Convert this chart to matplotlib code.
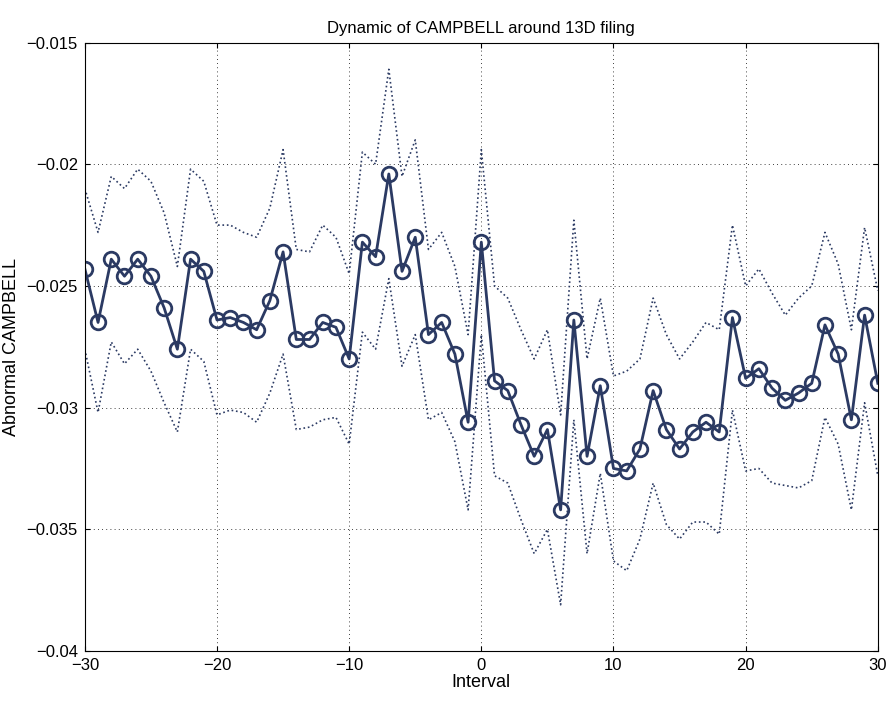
import matplotlib
matplotlib.use('Agg')
import matplotlib.pyplot as plt
import numpy as np

plt.rcParams['font.family'] = ['Liberation Sans', 'DejaVu Sans']

interval = np.arange(-30, 31)
main = [-0.0243, -0.0265, -0.0239, -0.0246, -0.0239, -0.0246, -0.0259, -0.0276, -0.0239, -0.0244,
        -0.0264, -0.0263, -0.0265, -0.0268, -0.0256, -0.0236, -0.0272, -0.0272, -0.0265, -0.0267,
        -0.0280, -0.0232, -0.0238, -0.0204, -0.0244, -0.0230, -0.0270, -0.0265, -0.0278, -0.0306,
        -0.0232, -0.0289, -0.0293, -0.0307, -0.0320, -0.0309, -0.0342, -0.0264, -0.0320, -0.0291,
        -0.0325, -0.0326, -0.0317, -0.0293, -0.0309, -0.0317, -0.0310, -0.0306, -0.0310, -0.0263,
        -0.0288, -0.0284, -0.0292, -0.0297, -0.0294, -0.0290, -0.0266, -0.0278, -0.0305, -0.0262,
        -0.0290]
upper = [-0.0210, -0.0228, -0.0205, -0.0210, -0.0202, -0.0207, -0.0220, -0.0242, -0.0202, -0.0207,
         -0.0225, -0.0225, -0.0228, -0.0230, -0.0218, -0.0194, -0.0235, -0.0236, -0.0225, -0.0230,
         -0.0245, -0.0195, -0.0200, -0.0161, -0.0205, -0.0190, -0.0235, -0.0228, -0.0242, -0.0270,
         -0.0194, -0.0250, -0.0255, -0.0268, -0.0280, -0.0268, -0.0303, -0.0223, -0.0280, -0.0255,
         -0.0287, -0.0285, -0.0280, -0.0255, -0.0270, -0.0280, -0.0273, -0.0265, -0.0268, -0.0225,
         -0.0250, -0.0243, -0.0253, -0.0262, -0.0255, -0.0250, -0.0228, -0.0241, -0.0268, -0.0226,
         -0.0252]
lower = [-0.0276, -0.0302, -0.0273, -0.0282, -0.0276, -0.0285, -0.0298, -0.0310, -0.0276, -0.0281,
         -0.0303, -0.0301, -0.0302, -0.0306, -0.0294, -0.0278, -0.0309, -0.0308, -0.0305, -0.0304,
         -0.0315, -0.0269, -0.0276, -0.0247, -0.0283, -0.0270, -0.0305, -0.0302, -0.0314, -0.0342,
         -0.0270, -0.0328, -0.0331, -0.0346, -0.0360, -0.0350, -0.0381, -0.0305, -0.0360, -0.0327,
         -0.0363, -0.0367, -0.0354, -0.0331, -0.0348, -0.0354, -0.0347, -0.0347, -0.0352, -0.0301,
         -0.0326, -0.0325, -0.0331, -0.0332, -0.0333, -0.0330, -0.0304, -0.0315, -0.0342, -0.0298,
         -0.0328]

yticks = [-0.04, -0.035, -0.03, -0.025, -0.02, -0.015]
ylabels = ['\u22120.04', '\u22120.035', '\u22120.03', '\u22120.025', '\u22120.02', '\u22120.015']
xticks = [-30, -20, -10, 0, 10, 20, 30]
xlabels = ['\u221230', '\u221220', '\u221210', '0', '10', '20', '30']

color = '#2b3a63'
fig = plt.figure(figsize=(8.93, 7.01), dpi=100)
ax = fig.add_axes([0.095, 0.0713, 0.888, 0.868])
ax.plot(interval, upper, ':', color=color, lw=1.2)
ax.plot(interval, lower, ':', color=color, lw=1.2)
ax.plot(interval, main, '-o', color=color, lw=2, markersize=10.5,
        markerfacecolor='none', markeredgewidth=2)
ax.set_xlim(-30, 30)
ax.set_ylim(-0.04, -0.015)
ax.set_xticks(xticks)
ax.set_xticklabels(xlabels)
ax.set_yticks(yticks)
ax.set_yticklabels(ylabels)
ax.grid(True, linestyle=(0, (1, 4)), color='black', lw=0.6)
ax.tick_params(direction='in', top=True, right=True, labelsize=12, pad=5)
ax.set_xlabel('Interval', fontsize=13, labelpad=1)
ax.set_ylabel('Abnormal CAMPBELL', fontsize=13, labelpad=5)
ax.set_title('Dynamic of CAMPBELL around 13D filing', fontsize=12, pad=7)
fig.savefig('out.png')
